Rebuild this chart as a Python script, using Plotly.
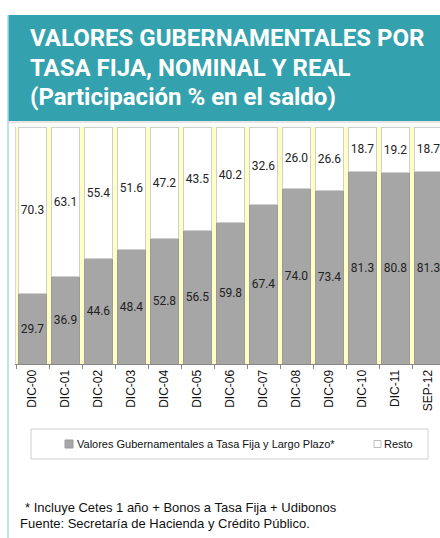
import plotly.graph_objects as go

categories = ["DIC-00", "DIC-01", "DIC-02", "DIC-03", "DIC-04", "DIC-05", "DIC-06",
              "DIC-07", "DIC-08", "DIC-09", "DIC-10", "DIC-11", "SEP-12"]
fija = [29.7, 36.9, 44.6, 48.4, 52.8, 56.5, 59.8, 67.4, 74.0, 73.4, 81.3, 80.8, 81.3]
resto = [70.3, 63.1, 55.4, 51.6, 47.2, 43.5, 40.2, 32.6, 26.0, 26.6, 18.7, 19.2, 18.7]

title_lines = ["VALORES GUBERNAMENTALES POR", "TASA FIJA, NOMINAL Y REAL",
               "(Participación % en el saldo)"]
legend_names = ["Valores Gubernamentales a Tasa Fija y Largo Plazo*", "Resto"]
notes = ["* Incluye Cetes 1 año + Bonos a Tasa Fija + Udibonos",
         "Fuente: Secretaría de Hacienda y Crédito Público."]

W, H = 440, 538
L, R, T, B = 16, 0, 127, 174
PW, PH = W - L - R, H - T - B


def px(x):
    return (x - L) / PW


def py(y):
    return (H - B - y) / PH


SANS = "Liberation Sans, Arial, sans-serif"
GRAY = "#a6a6a6"
TEAL = "#34a2ae"
TXT = "#111111"

fig = go.Figure()
fig.add_trace(go.Bar(x=categories, y=fija, name=legend_names[0],
                     marker=dict(color=GRAY, line=dict(color="#9a9a9a", width=1)),
                     texttemplate="%{y:.1f}", textposition="inside",
                     insidetextanchor="middle", textangle=0,
                     textfont=dict(family="Roboto", size=12, color="#222222")))
fig.add_trace(go.Bar(x=categories, y=resto, name=legend_names[1],
                     marker=dict(color="white", line=dict(color="#cfcfcf", width=1)),
                     texttemplate="%{y:.1f}", textposition="inside",
                     insidetextanchor="middle", textangle=0,
                     textfont=dict(family="Roboto", size=12, color="#222222")))

shapes = [
    dict(type="rect", xref="paper", yref="paper", x0=px(8), x1=px(441), y0=py(121), y1=py(15),
         fillcolor=TEAL, line=dict(width=0), layer="below"),
    dict(type="line", xref="paper", yref="paper", x0=px(8), x1=px(8), y0=py(15), y1=py(540),
         line=dict(color="#a9d8e0", width=1.5)),
    dict(type="line", xref="paper", yref="paper", x0=px(8), x1=px(441), y0=py(122), y1=py(122),
         line=dict(color="#cccccc", width=1)),
    # legend frame
    dict(type="rect", xref="paper", yref="paper", x0=px(31), x1=px(428), y0=py(459), y1=py(429),
         line=dict(color="#d0d0d0", width=1), fillcolor="rgba(0,0,0,0)"),
    # legend symbols
    dict(type="rect", xref="paper", yref="paper", x0=px(65), x1=px(73), y0=py(448), y1=py(440),
         line=dict(color="#9a9a9a", width=1), fillcolor=GRAY),
    dict(type="rect", xref="paper", yref="paper", x0=px(374), x1=px(381), y0=py(447.5), y1=py(440.5),
         line=dict(color="#bbbbbb", width=1), fillcolor="white"),
]

annotations = []
for line, yc in zip(title_lines, [38, 68, 97]):
    annotations.append(dict(text=line, xref="paper", yref="paper", x=px(28), y=py(yc),
                            xanchor="left", yanchor="middle", showarrow=False,
                            font=dict(family="Roboto", size=24, color="white", weight="bold")))
for name, x in zip(legend_names, [75, 382]):
    annotations.append(dict(text=name, xref="paper", yref="paper", x=px(x), y=py(444),
                            xanchor="left", yanchor="middle", showarrow=False,
                            font=dict(family=SANS, size=11, color=TXT)))
for note, yc, x in zip(notes, [507, 523], [23, 18]):
    annotations.append(dict(text=note, xref="paper", yref="paper", x=px(x), y=py(yc),
                            xanchor="left", yanchor="middle", showarrow=False,
                            font=dict(family=SANS, size=13, color=TXT)))

fig.update_layout(
    width=W, height=H, margin=dict(l=L, r=R, t=T, b=B, autoexpand=False),
    barmode="stack", bargap=0.15,
    paper_bgcolor="white", plot_bgcolor="#ffffc4",
    uniformtext=dict(minsize=12, mode="show"),
    shapes=shapes, annotations=annotations,
    showlegend=False,
)
fig.update_xaxes(type="category", range=[-0.5, -0.5 + PW / 33.0], tickangle=-90,
                 tickson="boundaries", ticks="outside", ticklen=4, tickcolor="#888888",
                 showline=True, linecolor="#888888", linewidth=1, showgrid=False,
                 automargin=False,
                 tickfont=dict(family=SANS, size=12, color=TXT), fixedrange=True)
fig.update_yaxes(range=[0, 100], showticklabels=False, showgrid=False, zeroline=False,
                 showline=True, linecolor="#d8d8d8", linewidth=1, ticks="", automargin=False)

fig.write_html("out.html", config={"displayModeBar": False},
               post_script="document.body.style.margin='0';document.body.style.overflow='hidden';")
